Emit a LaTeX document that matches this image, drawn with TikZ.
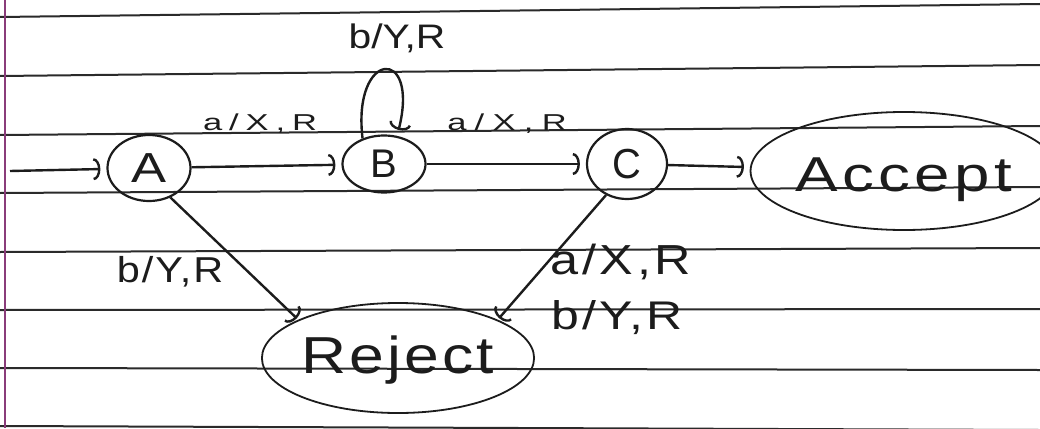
\documentclass[tikz,border=0pt]{standalone}
\usepackage{fontspec}
\setmainfont{Liberation Sans}
\usepackage{graphicx}
\usetikzlibrary{arrows.meta,shapes.geometric}
\definecolor{ink}{HTML}{1C1C1C}
\definecolor{ruling}{HTML}{2A2A2A}
\definecolor{margin}{HTML}{8A3C7A}
\newcommand\hw[4]{\fontsize{#1}{#1}\selectfont\addfontfeature{LetterSpace=#3}\scalebox{#2}[1]{#4}}
\begin{document}
\begin{tikzpicture}[x=1pt,y=-1pt,
  state/.style={ellipse,draw=ink,line width=2.2pt,inner sep=0pt,text=ink,text depth=0pt},
  edge/.style={draw=ink,line width=2.4pt,-{Arc Barb[length=7pt,width=22pt]},shorten >=6pt},
  lbl/.style={text=ink,inner sep=0pt},
  rule/.style={draw=ruling,line width=2pt}]
\fill[white] (0,0) rectangle (1040,428);
\useasboundingbox (0,0) rectangle (1040,428);
% ruled paper
\foreach \l/\r in {17/4,76/65,135/126,193/187,252/248,310/309,368/370,426/430}
  \draw[rule] (0,\l) -- (1040,\r);
\draw[draw=margin,line width=2pt] (5,0) -- (5,428);
% states
\node[state,minimum width=83pt,minimum height=66pt] (A) at (149,168) {\hw{42}{1.25}{0}{A}};
\node[state,minimum width=83pt,minimum height=57pt] (B) at (384,164) {\hw{40}{1.0}{0}{B}};
\node[state,minimum width=80pt,minimum height=70pt] (C) at (627,164) {\hw{42}{0.95}{0}{C}};
\node[state,minimum width=258pt,minimum height=118pt,line width=1.8pt] (Acc) at (904,171) {\raisebox{-7pt}{\hw{49}{1.3}{7}{Accept}}};
\node[state,minimum width=243pt,minimum height=110pt,line width=1.8pt] (Rej) at (398,358) {\raisebox{6pt}{\hw{52}{1.2}{5}{Reject}}};
% edges
\coordinate (start) at (10,171);
\draw[edge] (start) -- (A);
\draw[edge] (A) -- (B);
\draw[edge] (B) -- (C);
\draw[edge] (C) -- (Acc);
\draw[edge] (B.130) .. controls (352,50) and (420,45) .. (B.65);
\draw[edge,shorten >=2pt] (A.-54) -- (Rej.159);
\draw[edge,shorten >=2pt] (C.236) -- (Rej.21);
% labels
\node[lbl] (l1) at (260,124) {\hw{23}{1.5}{20}{a/X,R}};
\node[lbl] (l2) at (507,124) {\hw{23}{1.5}{24}{a/X,R}};
\node[lbl] (l3) at (397,38) {\hw{34}{1.2}{0}{b/Y,R}};
\node[lbl] (l4) at (170,272) {\hw{36}{1.15}{5}{b/Y,R}};
\node[lbl] (l5) at (621,262) {\hw{42}{1.2}{7}{a/X,R}};
\node[lbl] (l6) at (617,318) {\hw{40}{1.25}{6}{b/Y,R}};
\end{tikzpicture}
\end{document}
